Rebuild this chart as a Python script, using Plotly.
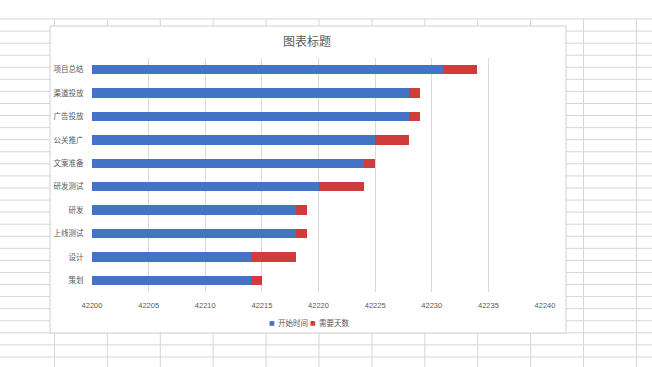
import plotly.graph_objects as go

# Data (bottom to top)
tasks = ["策划", "设计", "上线测试", "研发", "研发测试", "文案准备", "公关推广", "广告投放", "渠道投放", "项目总结"]
start_time = [42214, 42214, 42218, 42218, 42220, 42224, 42225, 42228, 42228, 42231]
days_needed = [1, 4, 1, 1, 4, 1, 3, 1, 1, 3]
x_ticks = [42200, 42205, 42210, 42215, 42220, 42225, 42230, 42235, 42240]
series_names = ["开始时间", "需要天数"]
series_colors = ["#4472C4", "#D03C3C"]

W, H = 652, 367
L, R, T, B = 92, 545, 58, 292  # plot area in pixels

def px_x(p):
    return (p - L) / (R - L)

def px_y(p):
    return (B - p) / (B - T)

fig = go.Figure()
fig.add_trace(go.Bar(y=tasks, x=start_time, orientation="h", name=series_names[0],
                     marker=dict(color=series_colors[0], line=dict(width=0)), showlegend=False))
fig.add_trace(go.Bar(y=tasks, x=days_needed, orientation="h", name=series_names[1],
                     marker=dict(color=series_colors[1], line=dict(width=0)), showlegend=False))

shapes = []
grid_col = "#D6D6D6"
# spreadsheet background grid
for i in range(13):
    xp = 54.5 + 52.9 * i
    shapes.append(dict(type="line", xref="paper", yref="paper", layer="below",
                       x0=px_x(xp), x1=px_x(xp), y0=px_y(19), y1=px_y(H),
                       line=dict(color=grid_col, width=1)))
for i in range(30):
    yp = 19 + 12.07 * i
    shapes.append(dict(type="line", xref="paper", yref="paper", layer="below",
                       x0=px_x(0), x1=px_x(W), y0=px_y(yp), y1=px_y(yp),
                       line=dict(color=grid_col, width=1)))
# chart area
shapes.append(dict(type="rect", xref="paper", yref="paper", layer="below",
                   x0=px_x(50), x1=px_x(566), y0=px_y(333), y1=px_y(26),
                   fillcolor="white", line=dict(color="#D0D0D0", width=1)))

# legend: small colour squares + labels
annotations = []
legend_sq_x = [272, 313]
for name, col, sx in zip(series_names, series_colors, legend_sq_x):
    annotations.append(dict(xref="paper", yref="paper", x=px_x(sx), y=px_y(322),
                            xanchor="center", yanchor="middle", showarrow=False,
                            text="■", font=dict(size=6, color=col, family="DejaVu Sans")))
    annotations.append(dict(xref="paper", yref="paper", x=px_x(sx + 3.5), y=px_y(322),
                            xanchor="left", yanchor="middle", showarrow=False,
                            text=name,
                            font=dict(size=7.5, color="#595959", family="Noto Sans CJK SC")))

fig.update_layout(
    width=W, height=H,
    margin=dict(l=L, r=W - R, t=T, b=H - B),
    barmode="stack",
    bargap=0.6,
    paper_bgcolor="white",
    plot_bgcolor="rgba(0,0,0,0)",
    font=dict(family="Noto Sans CJK SC", size=8, color="#595959"),
    title=dict(text="图表标题", x=px_x(307), xref="paper", xanchor="center",
               y=1 - 42 / H, yref="container", yanchor="middle",
               font=dict(size=12, color="#595959", family="Noto Sans CJK SC")),
    xaxis=dict(range=[42200, 42240], tickvals=x_ticks, ticktext=[str(v) for v in x_ticks],
               showgrid=True, gridcolor="#D9D9D9", gridwidth=1, zeroline=False,
               showline=False, ticks="", ticklabelstandoff=7,
               tickfont=dict(size=7.5, color="#595959", family="Liberation Sans")),
    yaxis=dict(type="category", categoryorder="array", categoryarray=tasks,
               showgrid=False, zeroline=False, showline=False, ticks="outside",
               ticklen=6, tickcolor="rgba(0,0,0,0)",
               tickfont=dict(size=7.5, color="#595959")),
    showlegend=False,
    annotations=annotations,
    shapes=shapes,
)

fig.write_html("out.html", config={"displayModeBar": False},
               post_script="document.body.style.margin='0';document.body.style.overflow='hidden';")
